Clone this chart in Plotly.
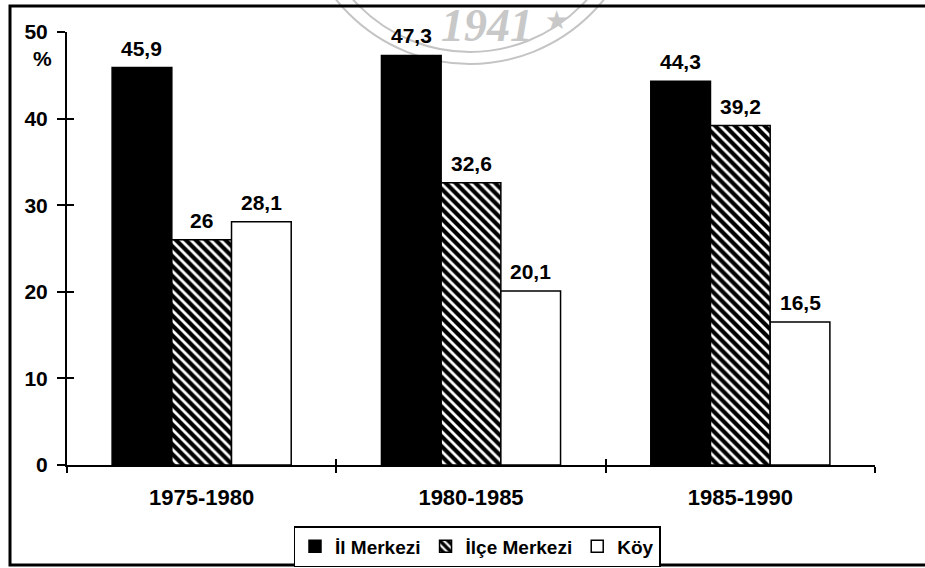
import plotly.graph_objects as go

categories = ["1975-1980", "1980-1985", "1985-1990"]
series_names = ["İl Merkezi", "İlçe Merkezi", "Köy"]
il_merkezi = [45.9, 47.3, 44.3]
ilce_merkezi = [26, 32.6, 39.2]
koy = [28.1, 20.1, 16.5]
y_ticks = [0, 10, 20, 30, 40, 50]

W, H = 925, 568
L, R, T, B = 67, 50, 32, 103
PW, PH = W - L - R, H - T - B

def px(x):
    return (x - L) / PW

def py(y):
    return (H - B - y) / PH

def fmt(v):
    return f"{v:g}".replace(".", ",")

FAM = "Liberation Sans, Arial, sans-serif"
bold = dict(family=FAM, size=21, color="black", weight="bold")
xfont = dict(family=FAM, size=22, color="black", weight="bold")
legfont = dict(family=FAM, size=19, color="black", weight="bold")

fig = go.Figure()
styles = [
    dict(marker=dict(color="black", line=dict(color="black", width=1.5))),
    dict(marker=dict(color="white", line=dict(color="black", width=1.5),
                     pattern=dict(shape="\\", fgcolor="black", bgcolor="white",
                                  size=7, solidity=0.6, fillmode="replace"))),
    dict(marker=dict(color="white", line=dict(color="black", width=1.5))),
]
all_vals = [il_merkezi, ilce_merkezi, koy]
for name, vals, st in zip(series_names, all_vals, styles):
    fig.add_trace(go.Bar(x=categories, y=vals, name=name, **st))

# value labels placed above each bar
bar_px = PW / len(categories) * (1 - 0.335) / len(series_names)
for si, vals in enumerate(all_vals):
    shift = (si - 1) * bar_px
    for cat, v in zip(categories, vals):
        fig.add_annotation(x=cat, y=v, xref="x", yref="y", text=fmt(v),
                           showarrow=False, yanchor="bottom", xanchor="center",
                           xshift=shift, yshift=6, font=bold)

# helper trace for secondary axes (crossing ticks)
fig.add_trace(go.Scatter(x=[None], y=[None], xaxis="x2", yaxis="y2",
                         showlegend=False, hoverinfo="skip"))

fig.update_layout(
    width=W, height=H,
    margin=dict(l=L, r=R, t=T, b=B, autoexpand=False),
    paper_bgcolor="white", plot_bgcolor="white",
    barmode="group", bargap=0.335, bargroupgap=0,
    font=bold,
    xaxis=dict(type="category", showgrid=False, showline=True, linecolor="black",
               linewidth=2, ticks="outside", tickson="boundaries", ticklen=6,
               tickwidth=2, tickcolor="black", tickfont=xfont, zeroline=False,
               ticklabelstandoff=12, automargin=False),
    yaxis=dict(range=[0, 50], tickvals=y_ticks, showgrid=False, showline=True,
               linecolor="black", linewidth=2, ticks="outside", ticklen=8,
               tickwidth=2, tickcolor="black", tickfont=bold, zeroline=False,
               ticklabelstandoff=5, automargin=False),
    xaxis2=dict(overlaying="x", anchor="y2", range=[-0.5, 2.5],
                tickvals=[-0.5, 0.5, 1.5, 2.5], ticks="inside", ticklen=6,
                tickwidth=2, tickcolor="black", showticklabels=False,
                showgrid=False, showline=False, zeroline=False, side="bottom"),
    yaxis2=dict(overlaying="y", anchor="x2", range=[0, 50], tickvals=y_ticks,
                ticks="inside", ticklen=7, tickwidth=2, tickcolor="black",
                showticklabels=False, showgrid=False, showline=False,
                zeroline=False, side="left"),
    legend=dict(orientation="h", x=px(477), xanchor="center", y=py(526),
                yanchor="top", bordercolor="black", borderwidth=1.5,
                font=legfont, itemwidth=30, tracegroupgap=0, bgcolor="white"),
    showlegend=True,
)

# "%" label
fig.add_annotation(x=px(42), y=py(58), xref="paper", yref="paper",
                   xanchor="center", yanchor="middle",
                   text="%", showarrow=False, font=bold)

# watermark stamp
fig.add_shape(type="circle", xref="paper", yref="paper",
              x0=px(470 - 172), x1=px(470 + 172), y0=py(64), y1=py(-110 - 172),
              line=dict(color="#c4c4c4", width=2), layer="below")
fig.add_shape(type="circle", xref="paper", yref="paper",
              x0=px(470 - 158), x1=px(470 + 158), y0=py(52), y1=py(-110 - 158),
              line=dict(color="#c4c4c4", width=2), layer="below")
fig.add_annotation(x=px(487), y=py(26), xref="paper", yref="paper",
                   xanchor="center", yanchor="middle",
                   text="1941", showarrow=False,
                   font=dict(family="Liberation Serif, serif", size=46,
                             color="#c8c8c8", style="italic"))
fig.add_annotation(x=px(556), y=py(20), xref="paper", yref="paper",
                   xanchor="center", yanchor="middle",
                   text="★", showarrow=False,
                   font=dict(family="DejaVu Sans, sans-serif", size=26,
                             color="#c8c8c8"))

# outer frame
fig.add_shape(type="rect", xref="paper", yref="paper",
              x0=px(10), x1=px(940), y0=py(565), y1=py(6),
              line=dict(color="black", width=3))

fig.write_html("out.html", config={"displayModeBar": False},
               post_script="document.body.style.margin='0';document.body.style.overflow='hidden';")
